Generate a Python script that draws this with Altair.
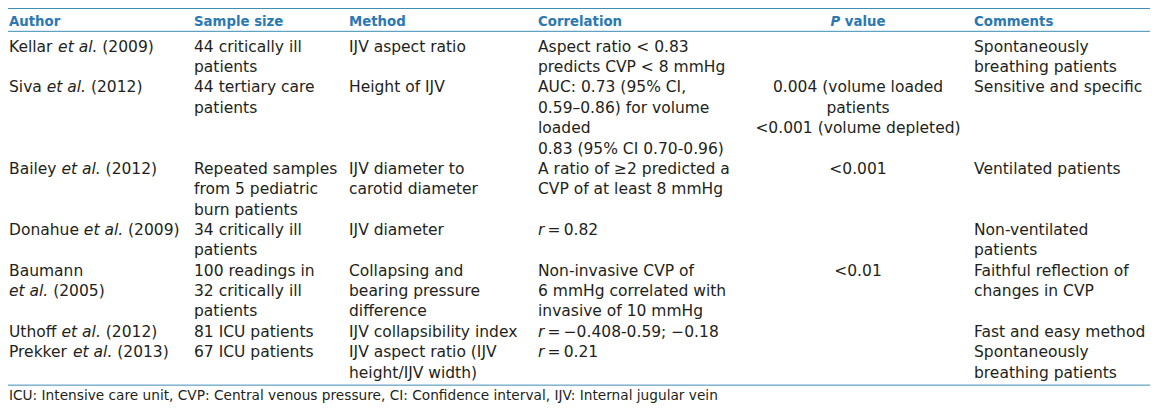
import altair as alt
import pandas as pd

# ---------------- table content ----------------
header = ["Author", "Sample size", "Method", "Correlation", "*P* value", "Comments"]

authors = [["Kellar *et al.* (2009)"], ["Siva *et al.* (2012)"], ["Bailey *et al.* (2012)"],
           ["Donahue *et al.* (2009)"], ["Baumann", "*et al.* (2005)"],
           ["Uthoff *et al.* (2012)"], ["Prekker *et al.* (2013)"]]

sample_sizes = [["44 critically ill", "patients"], ["44 tertiary care", "patients"],
                ["Repeated samples", "from 5 pediatric", "burn patients"],
                ["34 critically ill", "patients"],
                ["100 readings in", "32 critically ill", "patients"],
                ["81 ICU patients"], ["67 ICU patients"]]

methods = [["IJV aspect ratio"], ["Height of IJV"], ["IJV diameter to", "carotid diameter"],
           ["IJV diameter"], ["Collapsing and", "bearing pressure", "difference"],
           ["IJV collapsibility index"], ["IJV aspect ratio (IJV", "height/IJV width)"]]

correlations = [["Aspect ratio < 0.83", "predicts CVP < 8 mmHg"],
                ["AUC: 0.73 (95% CI,", "0.59\u20130.86) for volume", "loaded", "0.83 (95% CI 0.70-0.96)"],
                ["A ratio of \u22652 predicted a", "CVP of at least 8 mmHg"],
                ["*r*\u2009=\u20090.82"],
                ["Non-invasive CVP of", "6 mmHg correlated with", "invasive of 10 mmHg"],
                ["*r*\u2009=\u2009\u22120.408-0.59; \u22120.18"],
                ["*r*\u2009=\u20090.21"]]

p_values = [[], ["0.004 (volume loaded", "patients", "<0.001 (volume depleted)"], ["<0.001"],
            [], ["<0.01"], [], []]

comments = [["Spontaneously", "breathing patients"], ["Sensitive and specific"],
            ["Ventilated patients"], ["Non-ventilated", "patients"],
            ["Faithful reflection of", "changes in CVP"], ["Fast and easy method"],
            ["Spontaneously", "breathing patients"]]

footnote = ("ICU: Intensive care unit, CVP: Central venous pressure, CI: Confidence interval, "
            "IJV: Internal jugular vein")

# ---------------- layout / style ----------------
W, H = 1142, 396
BODY_FONT = "DejaVu Sans"
BODY_SIZE = 15.5
HEAD_SIZE = 13.3
FOOT_SIZE = 13.7
TEXT_COLOR = "#231f20"
HEAD_COLOR = "#2a78b4"
RULE_COLOR = "#3d8db5"
COL_X = [1, 186, 341, 530, 850, 966]   # left edges (P value column: centre)
K_TOP_RULE, K_HEAD, K_HEAD_RULE, K_FOOT = -2.12, -1.28, -1.0, 17.1
GAPS = " \u2009"

# DejaVu Sans advance widths (units of 1/2048 em)
DV = {" ": 651, "\u2009": 420, "(": 799, ")": 799, ".": 651, ",": 651, ":": 690, "=": 1716,
      "A": 1401, "B": 1405, "D": 1577, "K": 1343, "P": 1235, "S": 1300,
      "U": 1499, "a": 1255, "e": 1260, "f": 721, "h": 1298, "i": 569, "k": 1186,
      "l": 569, "m": 1995, "n": 1298, "o": 1253, "r": 842, "s": 1067, "t": 803,
      "u": 1298, "v": 1212, "y": 1212}
DVB = {" ": 713, "P": 1502, "v": 1331, "a": 1382, "l": 702, "u": 1458, "e": 1389}


def width(text, table, size):
    return sum(table.get(c, 1250) for c in text) / 2048 * size


def segments(line):
    return [(p, i % 2 == 1) for i, p in enumerate(line.split("*")) if p]


def place(records, x, k, line, table, size):
    """Lay out a line made of normal/italic segments left to right."""
    for text, ital in segments(line):
        rest = text.lstrip(GAPS)
        x += width(text[:len(text) - len(rest)], table, size)
        core = rest.rstrip(GAPS)
        records.append({"x": x, "k": k, "text": core, "italic": ital})
        x += width(rest, table, size)


# ---------------- build records ----------------
body, pcol, head = [], [], []
all_cols = [authors, sample_sizes, methods, correlations, p_values, comments]
row_len = [max(len(c[r]) for c in all_cols) for r in range(len(authors))]
row_start = [sum(row_len[:r]) for r in range(len(row_len))]

for ci, col in enumerate(all_cols):
    for r, lines in enumerate(col):
        for li, line in enumerate(lines):
            if ci == 4:
                pcol.append({"x": COL_X[4], "k": row_start[r] + li, "text": line})
            else:
                place(body, COL_X[ci], row_start[r] + li, line, DV, BODY_SIZE)

for ci, h in enumerate(header):
    x = COL_X[ci]
    if ci == 4:
        x -= width(h.replace("*", ""), DVB, HEAD_SIZE) / 2
    place(head, x, K_HEAD, h, DVB, HEAD_SIZE)

body_df = pd.DataFrame(body)
head_df = pd.DataFrame(head)
p_df = pd.DataFrame(pcol)
foot_df = pd.DataFrame([{"x": COL_X[0], "k": K_FOOT, "text": footnote}])
rules_df = pd.DataFrame({"k": [K_TOP_RULE, K_HEAD_RULE, row_start[-1] + row_len[-1] - 0.63]})

xs = alt.Scale(domain=[0, W], range=[0, W], zero=False, nice=False)
ys = alt.Scale(domain=[K_TOP_RULE, K_FOOT], range=[0.5, 392], zero=False, nice=False)
X = alt.X("x:Q", scale=xs, axis=None)
Y = alt.Y("k:Q", scale=ys, axis=None)


def text_layer(df, size, style="normal", weight="normal", color=TEXT_COLOR, align="left"):
    return alt.Chart(df).mark_text(
        font=BODY_FONT, fontSize=size, fontStyle=style, fontWeight=weight,
        color=color, align=align, baseline="alphabetic"
    ).encode(x=X, y=Y, text="text:N")


layers = [
    alt.Chart(rules_df).mark_rule(color=RULE_COLOR, strokeWidth=1).encode(
        y=Y, x=alt.value(0), x2=alt.value(W)),
    text_layer(body_df[~body_df.italic], BODY_SIZE),
    text_layer(body_df[body_df.italic], BODY_SIZE, style="italic"),
    text_layer(p_df, BODY_SIZE, align="center"),
    text_layer(head_df[~head_df.italic], HEAD_SIZE, weight="bold", color=HEAD_COLOR),
    text_layer(head_df[head_df.italic], HEAD_SIZE, style="italic", weight="bold", color=HEAD_COLOR),
    text_layer(foot_df, FOOT_SIZE),
]

chart = alt.layer(*layers).properties(
    width=W, height=H, autosize="none", padding=0
).configure_view(stroke=None)

chart.save("out.html", embed_options={"renderer": "svg", "actions": False})
